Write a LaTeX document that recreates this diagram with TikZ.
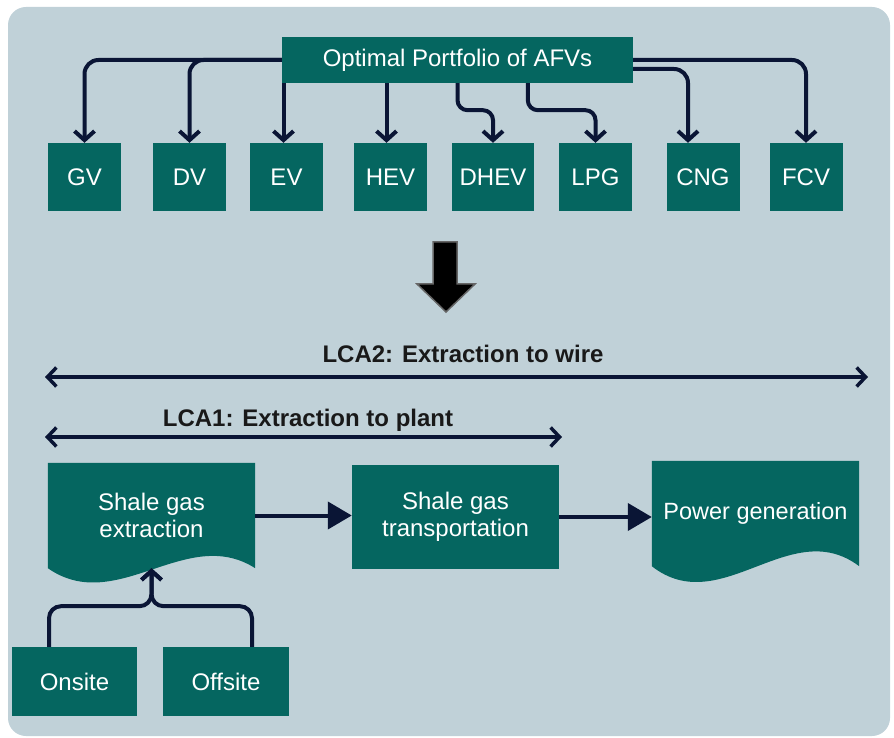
\documentclass[tikz,border=0pt]{standalone}
\usepackage{fontspec}
\setmainfont{Liberation Sans}
\usetikzlibrary{arrows.meta,calc,backgrounds}
\definecolor{panel}{RGB}{192,209,216}
\definecolor{boxteal}{RGB}{5,102,96}
\definecolor{wire}{RGB}{10,21,53}
\begin{document}
\begin{tikzpicture}[x=1pt,y=1pt,
    box/.style={fill=boxteal, text=white, font=\fontsize{24}{27}\selectfont,
      minimum width=73pt, minimum height=68pt, inner sep=0pt, align=center},
    docbox/.style={text=white, font=\fontsize{24}{27}\selectfont,
      minimum width=207pt, minimum height=105pt, inner sep=0pt, align=center},
    link/.style={draw=wire, line width=4pt, rounded corners=14pt,
      -{Straight Barb[length=9pt,width=20pt]}},
    flow/.style={draw=wire, line width=4pt, -{Triangle[length=24pt,width=27pt]}},
    span/.style={draw=wire, line width=3.5pt,
      {Straight Barb[length=9pt,width=19pt]}-{Straight Barb[length=9pt,width=19pt]}},
    lca/.style={font=\bfseries\fontsize{24}{27}\selectfont, text=black!90, inner sep=0pt}
  ]

  \useasboundingbox (0,0) rectangle (894,737);
  \begin{scope}[on background layer]
    \fill[panel, rounded corners=18pt] (8,1) rectangle (890,730);
  \end{scope}

  % portfolio and vehicle types
  \node[box, minimum width=351pt, minimum height=46pt] (afv) at (457.5,677) {Optimal Portfolio of AFVs};

  \node[box] (gv) at (84.5,560) {GV};
  \node[box] (dv) at (189.5,560) {DV};
  \node[box] (ev) at (286.5,560) {EV};
  \node[box] (hev) at (390.5,560) {HEV};
  \node[box, minimum width=82pt] (dhev) at (493,560) {DHEV};
  \node[box] (lpg) at (595.5,560) {LPG};
  \node[box] (cng) at (703,560) {CNG};
  \node[box] (fcv) at (806,560) {FCV};

  \coordinate (lpgout) at ($(afv.south)!0.4!(afv.south east)$);

  \draw[link] (afv.west) -| (gv.north);
  \draw[link] (afv.west) -| (dv.north);
  \draw[link] ([xshift=-3pt]ev.north |- afv.south) -- ([xshift=-3pt]ev.north);
  \draw[link] ([xshift=-4pt]hev.north |- afv.south) -- ([xshift=-4pt]hev.north);
  \draw[link, rounded corners=10pt] (afv.south) -- ++(0,-27) -| (dhev.north);
  \draw[link, rounded corners=10pt] (lpgout) -- ++(0,-27) -| (lpg.north);
  \draw[link] ([yshift=-9pt]afv.east) -| ([xshift=-15pt]cng.north);
  \draw[link] (afv.east) -| (fcv.north);

  % big arrow
  \filldraw[fill=black, draw=black!60, line width=1.5pt]
    (433,495) -- (457,495) -- (457,453) -- (475,453) -- (446,425) -- (417,453) -- (433,453) -- cycle;

  % life cycle spans
  \node[lca, anchor=base] (lca2) at (463,374) {LCA2: Extraction to wire};
  \node[lca, anchor=base] (lca1) at (308,310) {LCA1: Extraction to plant};
  \coordinate (lca2w) at (45,360);
  \coordinate (lca2e) at (868,360);
  \coordinate (lca1w) at (45,300);
  \coordinate (lca1e) at (562,300);
  \draw[span] (lca2w) -- (lca2e);
  \draw[span] (lca1w) -- (lca1e);

  % process chain
  \node[docbox] (ext) at (151.5,221.5) {Shale gas\\extraction};
  \node[box, minimum width=207pt, minimum height=104pt] (trans) at (455.5,220) {Shale gas\\transportation};
  \node[docbox, font=\fontsize{23.5}{27}\selectfont] (power) at (755.5,223.5) {Power generation};

  \begin{scope}[on background layer]
    \fill[boxteal] (ext.north west) -- (ext.north east) -- (ext.south east)
      .. controls +(-69,44) and +(69,-48) .. (ext.south west) -- cycle;
    \fill[boxteal] (power.north west) -- (power.north east) -- (power.south east)
      .. controls +(-69,52) and +(69,-54) .. (power.south west) -- cycle;
  \end{scope}

  \draw[flow] (ext.east) -- (ext.east -| trans.west);
  \draw[flow] (trans.east) -- (trans.east -| power.west);

  \node[box, minimum width=125pt, minimum height=69pt] (ons) at (74.5,55.5) {Onsite};
  \node[box, minimum width=126pt, minimum height=69pt] (off) at (226,55.5) {Offsite};

  \draw[link, rounded corners=12pt] ([xshift=-25.5pt]ons.north) |- ($(ext.south)+(0,-38)$) -- (ext.south);
  \draw[link, rounded corners=12pt] ([xshift=26pt]off.north) |- ($(ext.south)+(0,-38)$) -- (ext.south);

\end{tikzpicture}
\end{document}
